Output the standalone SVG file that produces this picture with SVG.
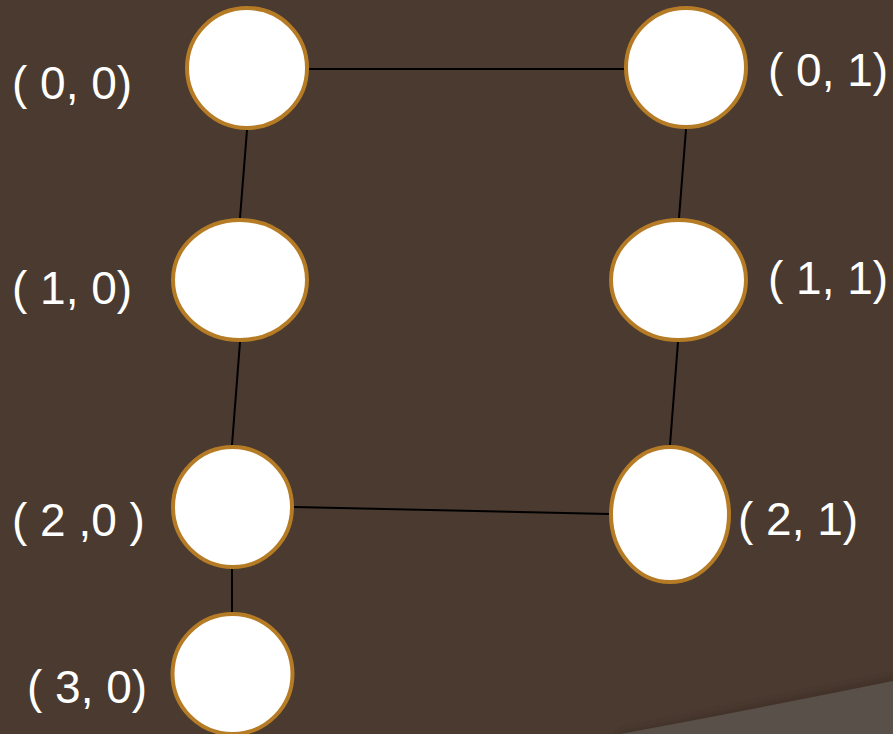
<svg xmlns="http://www.w3.org/2000/svg" width="893" height="734" viewBox="0 0 893 734">
  <defs>
    <style>
      .node { fill: #ffffff; stroke: #b57b25; stroke-width: 4; }
      .edge { stroke: #000000; stroke-width: 2; fill: none; }
      .label { fill: #ffffff; font-family: "Liberation Sans", Arial, sans-serif; font-size: 46px; }
    </style>
    <filter id="soft" x="-10%" y="-50%" width="120%" height="200%">
      <feGaussianBlur stdDeviation="3"/>
    </filter>
  </defs>

  <!-- background with a lighter swoosh in the lower right corner -->
  <rect width="893" height="734" fill="#4a3a30"/>
  <path d="M 620 736 Q 760 708 895 680" stroke="#3a2c23" stroke-width="6" fill="none" filter="url(#soft)" opacity="0.7"/>
  <path d="M 620 734 Q 760 708 893 681 L 893 734 Z" fill="#5a504a"/>

  <!-- connectors -->
  <g id="edges">
    <line class="edge" x1="309" y1="69" x2="624" y2="69"/>
    <line class="edge" x1="247" y1="130" x2="240" y2="218"/>
    <line class="edge" x1="240" y1="342" x2="232" y2="445"/>
    <line class="edge" x1="232" y1="569" x2="232" y2="612"/>
    <line class="edge" x1="686" y1="129" x2="679" y2="218"/>
    <line class="edge" x1="678" y1="342" x2="670" y2="445"/>
    <line class="edge" x1="294" y1="507" x2="609" y2="514"/>
  </g>

  <!-- nodes -->
  <g id="n00">
    <ellipse class="node" cx="247" cy="68" rx="60" ry="60"/>
    <text class="label" x="12" y="99">( 0, 0)</text>
  </g>
  <g id="n01">
    <ellipse class="node" cx="686" cy="67.5" rx="60" ry="59.5"/>
    <text class="label" x="768" y="86">( 0, 1)</text>
  </g>
  <g id="n10">
    <ellipse class="node" cx="240" cy="280" rx="67" ry="60"/>
    <text class="label" x="12" y="304">( 1, 0)</text>
  </g>
  <g id="n11">
    <ellipse class="node" cx="678.5" cy="280" rx="67.5" ry="60"/>
    <text class="label" x="768" y="294">( 1, 1)</text>
  </g>
  <g id="n20">
    <ellipse class="node" cx="232.5" cy="507" rx="59.5" ry="60"/>
    <text class="label" x="12" y="536">( 2 ,0 )</text>
  </g>
  <g id="n21">
    <ellipse class="node" cx="670" cy="514.5" rx="59" ry="67.5"/>
    <text class="label" x="738" y="535">( 2, 1)</text>
  </g>
  <g id="n30">
    <ellipse class="node" cx="232.5" cy="674" rx="60" ry="60"/>
    <text class="label" x="27" y="703">( 3, 0)</text>
  </g>
</svg>
